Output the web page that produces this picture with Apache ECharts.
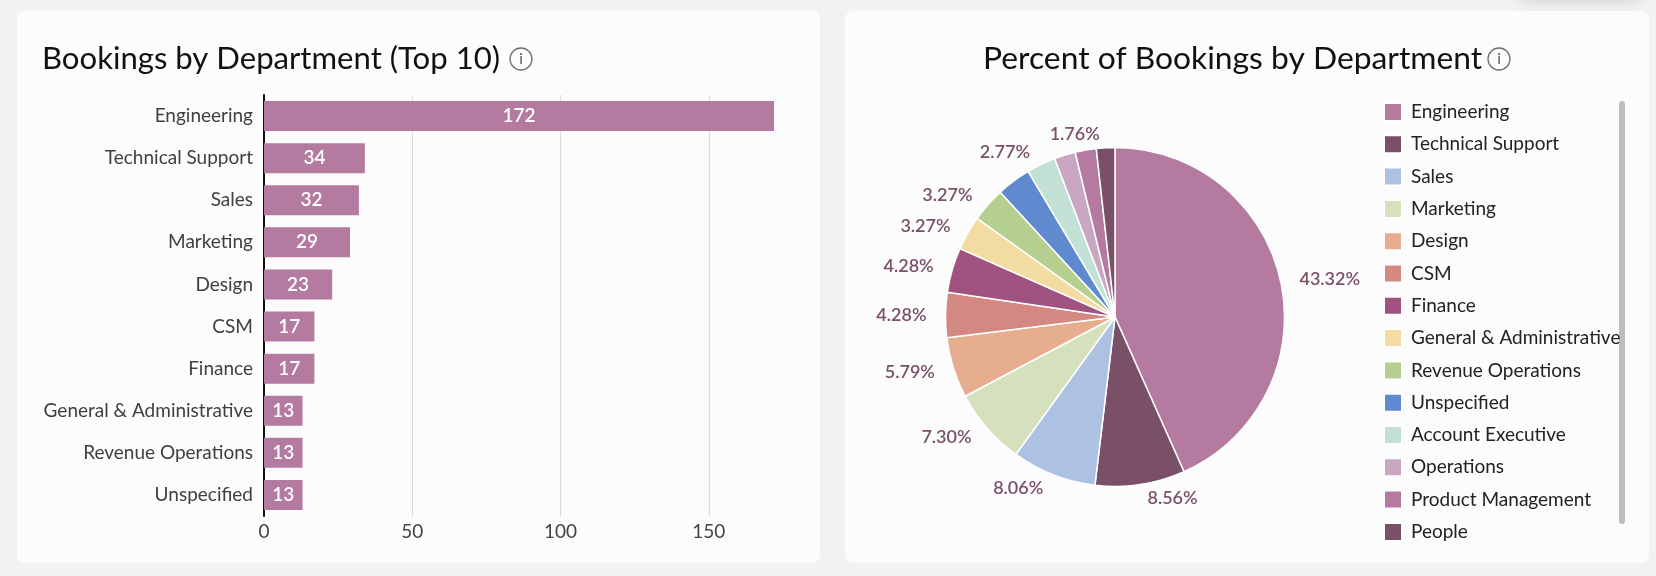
<!DOCTYPE html>
<html>
<head>
<meta charset="utf-8">
<style>html,body{margin:0;padding:0;background:#f2f2f2}#c{width:1656px;height:576px}</style>
<script src="https://cdn.jsdelivr.net/npm/echarts@6/dist/echarts.min.js"></script>
</head>
<body>
<div id="c"></div>
<script>
const departments = ['Engineering','Technical Support','Sales','Marketing','Design','CSM','Finance','General & Administrative','Revenue Operations','Unspecified','Account Executive','Operations','Product Management','People'];
const bookings = [172,34,32,29,23,17,17,13,13,13,11,8,8,7];
const sliceColors = ['#b47a9f','#7a5069','#adc2e3','#d5e0bc','#e6ae8e','#d38882','#a05280','#f2dca2','#b5cf8f','#5f8ad0','#c3e0d5','#c9a7c2','#b47a9f','#7a5069'];
const hiddenLabels = ['Unspecified','Operations','Product Management'];
const xTicksMax = 172;
const FONT = 'Lato';
const total = bookings.reduce((a,b)=>a+b,0);

const chart = echarts.init(document.getElementById('c'), null, {renderer:'canvas'});
function info(cx, cy){
  return [
    {type:'circle', shape:{cx, cy, r:11}, style:{fill:'none', stroke:'#6f6f6f', lineWidth:1.3}},
    {type:'text', style:{x:cx, y:cy, text:'i', fill:'#555', font:'15px '+FONT, align:'center', verticalAlign:'middle'}}
  ];
}
chart.setOption({
  animation:false,
  backgroundColor:'#f2f2f2',
  graphic:[
    {type:'rect', shape:{x:1520,y:-20,width:120,height:20}, style:{fill:'#ddd', shadowBlur:14, shadowColor:'rgba(0,0,0,0.16)'}},
    {type:'rect', shape:{x:17,y:11,width:803,height:552,r:8}, style:{fill:'#fcfcfc'}},
    {type:'rect', shape:{x:845,y:11,width:804,height:552,r:8}, style:{fill:'#fcfcfc'}},
    ...info(521,59),
    ...info(1499,59),
    {type:'rect', shape:{x:1619,y:101,width:6,height:423,r:3}, style:{fill:'#bdbdbd'}}
  ],
  title:[
    {text:'Bookings by Department (Top 10)', left:42, top:59, padding:0, textVerticalAlign:'middle', textStyle:{fontFamily:FONT, fontSize:31.1, fontWeight:400, color:'#111'}},
    {text:'Percent of Bookings by Department', left:983, top:59, padding:0, textVerticalAlign:'middle', textStyle:{fontFamily:FONT, fontSize:31.8, fontWeight:400, color:'#111'}}
  ],
  grid:{left:264, top:95, width:510, height:421, containLabel:false},
  xAxis:{
    type:'value', min:0, max:xTicksMax, interval:50,
    axisLine:{show:false}, axisTick:{show:false},
    axisLabel:{showMaxLabel:false, fontFamily:FONT, fontSize:19, color:'#444', margin:6},
    splitLine:{show:true, showMaxLine:false, showMinLine:false, lineStyle:{color:'#dcdcdc', width:1.2}}
  },
  yAxis:{
    type:'category', inverse:true, data:departments.slice(0,10),
    axisLine:{show:true, lineStyle:{color:'#111', width:2}}, axisTick:{show:false},
    axisLabel:{fontFamily:FONT, fontSize:19, color:'#3f3f3f', margin:11}
  },
  legend:{
    orient:'vertical', left:1383, top:102, padding:0, itemWidth:18, itemHeight:18, itemGap:12.3, icon:'rect',
    data:departments, selectedMode:false,
    textStyle:{fontFamily:FONT, fontSize:19, color:'#222', padding:[0,0,0,4]}
  },
  series:[
    {
      type:'bar', data:bookings.slice(0,10), barWidth:30,
      itemStyle:{color:'#b47a9f'},
      label:{show:true, position:'inside', color:'#fff', fontFamily:FONT, fontSize:19, fontWeight:600}
    },
    {
      type:'pie', center:[1115,317], radius:169.5, startAngle:90, clockwise:true,
      avoidLabelOverlap:false, legendHoverLink:false,
      data:departments.map((name,i)=>({
        name, value:bookings[i],
        itemStyle:{color:sliceColors[i]},
        label:{show:!hiddenLabels.includes(name)}
      })),
      itemStyle:{borderColor:'#fff', borderWidth:1.5},
      label:{position:'outside', formatter:p=>(p.value/total*100).toFixed(2)+'%', color:'#7a5069', fontFamily:FONT, fontSize:18, fontWeight:600},
      labelLine:{show:false, length:14, length2:0}
    }
  ]
});
</script>
</body>
</html>
